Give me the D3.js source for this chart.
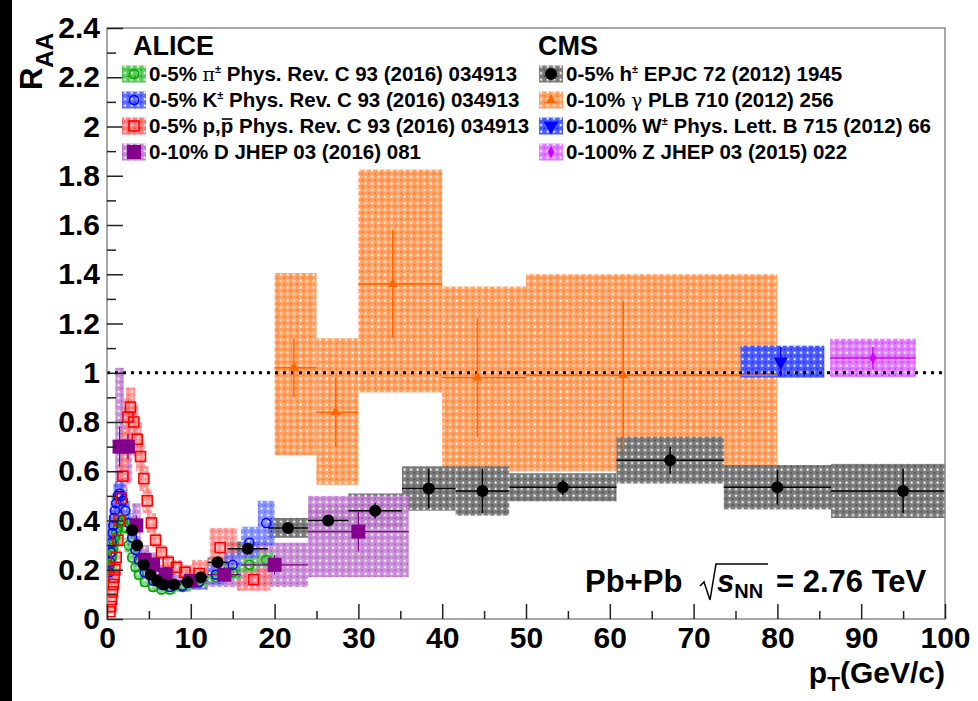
<!DOCTYPE html>
<html>
<head>
<meta charset="utf-8">
<script src="https://cdn.jsdelivr.net/npm/d3@7"></script>
<style>
  body { margin: 0; background: #fff; }
  text { font-family: "Liberation Sans", Arial, Helvetica, sans-serif; font-weight: bold; }
</style>
</head>
<body>
<script>
// ALICE pi+- 0-5%
const piPt = [0.15, 0.25, 0.35, 0.45, 0.55, 0.65, 0.75, 0.85, 0.95, 1.1, 1.3, 1.5, 1.7, 1.9, 2.2, 2.6, 3.0, 3.4, 3.8, 4.5, 5.5, 6.5, 7.5, 9, 11, 13, 15, 17, 19];
const piRaa = [0.2, 0.21, 0.22, 0.23, 0.25, 0.27, 0.29, 0.31, 0.33, 0.35, 0.37, 0.39, 0.4, 0.4, 0.37, 0.3, 0.25, 0.21, 0.18, 0.15, 0.13, 0.12, 0.12, 0.13, 0.15, 0.17, 0.19, 0.22, 0.24];
const piSys = [0.03, 0.03, 0.03, 0.03, 0.03, 0.03, 0.03, 0.03, 0.03, 0.03, 0.03, 0.03, 0.03, 0.03, 0.03, 0.03, 0.02, 0.02, 0.02, 0.02, 0.02, 0.02, 0.02, 0.02, 0.02, 0.02, 0.03, 0.03, 0.03];

// ALICE K+- 0-5%
const kPt = [0.25, 0.35, 0.45, 0.55, 0.65, 0.75, 0.85, 0.95, 1.1, 1.3, 1.5, 1.7, 1.9, 2.2, 2.6, 3.0, 3.4, 3.8, 4.5, 5.5, 6.5, 7.5, 9, 11, 13, 15, 17, 19];
const kRaa = [0.19, 0.23, 0.27, 0.31, 0.35, 0.38, 0.41, 0.44, 0.47, 0.5, 0.51, 0.5, 0.48, 0.44, 0.39, 0.33, 0.28, 0.24, 0.19, 0.155, 0.14, 0.13, 0.135, 0.15, 0.18, 0.22, 0.31, 0.39];
const kSys = [0.03, 0.03, 0.03, 0.04, 0.04, 0.04, 0.04, 0.04, 0.04, 0.05, 0.05, 0.05, 0.05, 0.04, 0.04, 0.04, 0.03, 0.03, 0.03, 0.02, 0.02, 0.02, 0.02, 0.03, 0.04, 0.05, 0.065, 0.09];

// ALICE p, pbar 0-5%
const pPt = [0.35, 0.45, 0.55, 0.65, 0.75, 0.85, 0.95, 1.1, 1.3, 1.5, 1.7, 1.9, 2.2, 2.5, 2.8, 3.2, 3.6, 4.0, 4.4, 4.8, 5.3, 5.8, 6.5, 7.3, 8.3, 9.3, 11, 13.5, 17.5];
const pRaa = [0.03, 0.05, 0.08, 0.11, 0.14, 0.17, 0.2, 0.25, 0.32, 0.4, 0.49, 0.58, 0.7, 0.82, 0.86, 0.8, 0.73, 0.66, 0.57, 0.48, 0.39, 0.32, 0.27, 0.23, 0.21, 0.19, 0.185, 0.29, 0.16];
const pSys = [0.01, 0.01, 0.01, 0.01, 0.02, 0.02, 0.02, 0.03, 0.03, 0.04, 0.05, 0.06, 0.07, 0.08, 0.08, 0.07, 0.07, 0.06, 0.05, 0.05, 0.04, 0.03, 0.03, 0.03, 0.03, 0.03, 0.055, 0.08, 0.045];

// ALICE D 0-10%
const dPt = [1.5, 2.5, 3.5, 4.5, 5.5, 7, 10, 14, 20, 30];
const dLo = [1, 2, 3, 4, 5, 6, 8, 12, 16, 24];
const dHi = [2, 3, 4, 5, 6, 8, 12, 16, 24, 36];
const dRaa = [0.7, 0.7, 0.38, 0.24, 0.22, 0.18, 0.155, 0.18, 0.22, 0.355];
const dStat = [0.08, 0.05, 0.04, 0.03, 0.03, 0.02, 0.02, 0.03, 0.04, 0.08];
const dSysLo = [0.45, 0.55, 0.3, 0.19, 0.17, 0.14, 0.12, 0.13, 0.13, 0.17];
const dSysHi = [1.02, 0.86, 0.47, 0.3, 0.27, 0.22, 0.19, 0.23, 0.31, 0.5];

// CMS h+- 0-5%
const hPt = [3.0, 3.6, 4.4, 5.2, 6.0, 6.8, 8.0, 9.6, 11.2, 13.2, 16.8, 21.6, 26.4, 32.0, 38.4, 44.8, 54.4, 67.2, 80.0, 95.0];
const hLo = [2.8, 3.2, 4.0, 4.8, 5.6, 6.4, 7.2, 8.8, 10.4, 12.0, 14.4, 19.2, 24.0, 28.8, 35.2, 41.6, 48.0, 60.8, 73.6, 86.4];
const hHi = [3.2, 4.0, 4.8, 5.6, 6.4, 7.2, 8.8, 10.4, 12.0, 14.4, 19.2, 24.0, 28.8, 35.2, 41.6, 48.0, 60.8, 73.6, 86.4, 103.6];
const hRaa = [0.36, 0.3, 0.22, 0.18, 0.155, 0.14, 0.14, 0.15, 0.17, 0.23, 0.285, 0.37, 0.4, 0.44, 0.53, 0.52, 0.535, 0.645, 0.535, 0.52];
const hStat = [0.005, 0.005, 0.005, 0.005, 0.005, 0.005, 0.005, 0.005, 0.01, 0.01, 0.015, 0.01, 0.02, 0.03, 0.08, 0.09, 0.03, 0.055, 0.07, 0.09];
const hSys = [0.03, 0.03, 0.02, 0.02, 0.015, 0.015, 0.015, 0.015, 0.02, 0.02, 0.03, 0.04, 0.06, 0.07, 0.09, 0.1, 0.057, 0.095, 0.09, 0.11];

// CMS isolated photons 0-10%
const gPt = [22.3, 27.3, 34.1, 44.2, 61.6];
const gLo = [20, 25, 30, 40, 50];
const gHi = [25, 30, 40, 50, 80];
const gRaa = [1.02, 0.84, 1.36, 0.98, 0.99];
const gStat = [0.12, 0.14, 0.22, 0.24, 0.3];
const gSysLo = [0.665, 0.545, 0.92, 0.6, 0.6];
const gSysHi = [1.405, 1.14, 1.825, 1.35, 1.4];

// CMS W and Z 0-100%
const wPt = [80.4], wLo = [75.6], wHi = [85.6], wRaa = [1.045], wStat = [0.06], wSys = [0.065];
const zPt = [91.4], zLo = [86.3], zHi = [96.5], zRaa = [1.06], zStat = [0.045], zSys = [0.078];

const yTicks = [0, 0.2, 0.4, 0.6, 0.8, 1, 1.2, 1.4, 1.6, 1.8, 2, 2.2, 2.4];
const yMinor = [0.1, 0.3, 0.5, 0.7, 0.9, 1.1, 1.3, 1.5, 1.7, 1.9, 2.1, 2.3];
const xTicks = [0, 10, 20, 30, 40, 50, 60, 70, 80, 90, 100];
const xMinor = [5, 15, 25, 35, 45, 55, 65, 75, 85, 95];

const aliceLegend = [
  [['0-5%  '], ['π', 'sym'], ['±', 'sup'], [' Phys. Rev. C 93 (2016) 034913']],
  [['0-5% K'], ['±', 'sup'], [' Phys. Rev. C 93 (2016) 034913']],
  [['0-5% p,'], ['p', 'bar'], [' Phys. Rev. C 93 (2016) 034913']],
  [['0-10% D JHEP 03 (2016) 081']],
];
const cmsLegend = [
  [['0-5% h'], ['±', 'sup'], [' EPJC 72 (2012) 1945']],
  [['0-10%  '], ['γ', 'sym'], [' PLB 710 (2012) 256']],
  [['0-100% W'], ['±', 'sup'], [' Phys. Lett. B 715 (2012) 66']],
  [['0-100% Z JHEP 03 (2015) 022']],
];

const width = 978;
const height = 701;

const svg = d3.select('body').append('svg').attr('width', width).attr('height', height);
svg.append('rect').attr('width', width).attr('height', height).attr('fill', '#fff');
svg.append('rect').attr('x', 0).attr('y', 0).attr('width', 12).attr('height', height).attr('fill', '#000');

const x = d3.scaleLinear().domain([0, 100]).range([107, 945]);
const y = d3.scaleLinear().domain([0, 2.4]).range([619, 28]);

// dotted fill patterns like the ROOT boxes
const defs = svg.append('defs');
function pattern(id, base, dark) {
  const p = defs.append('pattern').attr('id', id)
    .attr('width', 6.5).attr('height', 6.5).attr('patternUnits', 'userSpaceOnUse');
  p.append('rect').attr('width', 6.5).attr('height', 6.5).attr('fill', base);
  p.append('circle').attr('cx', 1.6).attr('cy', 1.6).attr('r', 1.1).attr('fill', '#fff');
  p.append('circle').attr('cx', 4.85).attr('cy', 4.85).attr('r', 0.9).attr('fill', dark);
}
pattern('pOrange', '#ffa264', '#ff6a10');
pattern('pGray', '#7c7c7c', '#404040');
pattern('pPurple', '#c484d4', '#9a38b0');
pattern('pRed', '#ff7a7a', '#ff2020');
pattern('pBlueK', '#6070ff', '#1c1cff');
pattern('pGreen', '#5ccc5c', '#109010');
pattern('pBlueW', '#4a5cff', '#1a1aff');
pattern('pMagenta', '#e27cff', '#c030ff');

defs.append('clipPath').attr('id', 'plotClip')
  .append('rect').attr('x', x(0)).attr('y', y(2.4)).attr('width', x(100) - x(0)).attr('height', y(0) - y(2.4));

const plot = svg.append('g').attr('clip-path', 'url(#plotClip)');

// build box records
function binBoxes(pt, lo, hi, ylo, yhi) {
  return pt.map((p, i) => ({ x0: x(lo[i]), x1: x(hi[i]), y0: y(yhi[i]), y1: y(ylo[i]) }));
}
function aliceBoxes(pt, val, sys) {
  return pt.map((p, i) => {
    const dl = i > 0 ? (p - pt[i - 1]) / 2 : (pt[1] - pt[0]) / 2;
    const dr = i < pt.length - 1 ? (pt[i + 1] - p) / 2 : dl;
    let x0 = x(p - dl), x1 = x(p + dr);
    if (x1 - x0 < 9) { x0 = x(p) - 4.5; x1 = x(p) + 4.5; }
    return { x0, x1, y0: y(val[i] + sys[i]), y1: y(val[i] - sys[i]) };
  });
}
function drawBoxes(boxes, pat, opacity) {
  plot.append('g').selectAll('rect').data(boxes).enter().append('rect')
    .attr('x', (d) => d.x0)
    .attr('y', (d) => d.y0)
    .attr('width', (d) => d.x1 - d.x0)
    .attr('height', (d) => d.y1 - d.y0)
    .attr('fill', 'url(#' + pat + ')')
    .attr('opacity', opacity || 1);
}

drawBoxes(binBoxes(gPt, gLo, gHi, gSysLo, gSysHi), 'pOrange');
drawBoxes(binBoxes(hPt, hLo, hHi, hRaa.map((v, i) => v - hSys[i]), hRaa.map((v, i) => v + hSys[i])), 'pGray');
drawBoxes(binBoxes(dPt, dLo, dHi, dSysLo, dSysHi), 'pPurple', 0.9);
drawBoxes(aliceBoxes(pPt, pRaa, pSys), 'pRed', 0.75);
drawBoxes(aliceBoxes(kPt, kRaa, kSys), 'pBlueK', 0.75);
drawBoxes(aliceBoxes(piPt, piRaa, piSys), 'pGreen', 0.75);
drawBoxes(binBoxes(wPt, wLo, wHi, wRaa.map((v, i) => v - wSys[i]), wRaa.map((v, i) => v + wSys[i])), 'pBlueW');
drawBoxes(binBoxes(zPt, zLo, zHi, zRaa.map((v, i) => v - zSys[i]), zRaa.map((v, i) => v + zSys[i])), 'pMagenta');

// unity line
plot.append('line')
  .attr('x1', x(0)).attr('x2', x(100)).attr('y1', y(1)).attr('y2', y(1))
  .attr('stroke', '#000').attr('stroke-width', 3).attr('stroke-dasharray', '3,5');

// error bars
function errBars(pt, lo, hi, val, stat, color, w) {
  const g = plot.append('g').attr('stroke', color).attr('stroke-width', w || 1.5);
  pt.forEach((p, i) => {
    if (lo) g.append('line').attr('x1', x(lo[i])).attr('x2', x(hi[i])).attr('y1', y(val[i])).attr('y2', y(val[i]));
    g.append('line').attr('x1', x(p)).attr('x2', x(p)).attr('y1', y(val[i] - stat[i])).attr('y2', y(val[i] + stat[i]));
  });
}

// markers
function marker(g, type, color, cx, cy) {
  if (type === 'ocircle') {
    g.append('circle').attr('cx', cx).attr('cy', cy).attr('r', 4.5)
      .attr('fill', 'none').attr('stroke', color).attr('stroke-width', 1.5);
  } else if (type === 'osquare') {
    g.append('rect').attr('x', cx - 5).attr('y', cy - 5).attr('width', 10).attr('height', 10)
      .attr('fill', 'none').attr('stroke', color).attr('stroke-width', 1.6);
  } else if (type === 'square') {
    g.append('rect').attr('x', cx - 7).attr('y', cy - 7).attr('width', 14).attr('height', 14).attr('fill', color);
  } else if (type === 'circle') {
    g.append('circle').attr('cx', cx).attr('cy', cy).attr('r', 6).attr('fill', color);
  } else if (type === 'tri') {
    g.append('path').attr('d', d3.symbol(d3.symbolTriangle, 45)()).attr('transform', `translate(${cx},${cy})`).attr('fill', color);
  } else if (type === 'tridown') {
    g.append('path').attr('d', d3.symbol(d3.symbolTriangle, 90)()).attr('transform', `translate(${cx},${cy}) rotate(180)`).attr('fill', color);
  } else if (type === 'diamond') {
    g.append('path').attr('d', d3.symbol(d3.symbolDiamond, 40)()).attr('transform', `translate(${cx},${cy})`).attr('fill', color);
  }
}
function drawMarkers(pt, val, type, color) {
  const g = plot.append('g');
  pt.forEach((p, i) => marker(g, type, color, x(p), y(val[i])));
}

drawMarkers(piPt, piRaa, 'ocircle', '#00a000');
drawMarkers(kPt, kRaa, 'ocircle', '#0000ff');
drawMarkers(pPt, pRaa, 'osquare', '#ff0000');

errBars(dPt, dLo, dHi, dRaa, dStat, '#800080', 1.2);
drawMarkers(dPt, dRaa, 'square', '#84008c');

errBars(hPt, hLo, hHi, hRaa, hStat, '#000', 1.5);
drawMarkers(hPt, hRaa, 'circle', '#000');

errBars(gPt, gLo, gHi, gRaa, gStat, '#ff6600', 1.5);
drawMarkers(gPt, gRaa, 'tri', '#ff6600');

errBars(wPt, null, null, wRaa, wStat, '#0000ff', 1.5);
drawMarkers(wPt, wRaa, 'tridown', '#0000ff');

errBars(zPt, zLo, zHi, zRaa, zStat, '#cc00ff', 1.5);
drawMarkers(zPt, zRaa, 'diamond', '#cc00ff');

// frame
svg.append('rect')
  .attr('x', x(0)).attr('y', y(2.4)).attr('width', x(100) - x(0)).attr('height', y(0) - y(2.4))
  .attr('fill', 'none').attr('stroke', '#8a8a8a').attr('stroke-width', 1.5);

// axes
function styleAxis(g) {
  g.select('.domain').remove();
  g.selectAll('.tick line').attr('stroke', '#222').attr('stroke-width', 1.5);
  g.selectAll('.tick text').attr('fill', '#000')
    .style('font-family', '"Liberation Sans", Arial, sans-serif').style('font-weight', 'bold').style('font-size', '30px');
}
const fmt = (d) => String(+d.toFixed(1));

svg.append('g').attr('transform', `translate(${x(0)},0)`)
  .call(d3.axisLeft(y).tickValues(yTicks).tickSize(-16).tickPadding(7).tickFormat(fmt))
  .call(styleAxis);
svg.append('g').attr('transform', `translate(${x(0)},0)`)
  .call(d3.axisLeft(y).tickValues(yMinor).tickSize(-9).tickFormat(''))
  .call(styleAxis);
svg.append('g').attr('transform', `translate(0,${y(0)})`)
  .call(d3.axisBottom(x).tickValues(xTicks).tickSize(-15).tickPadding(8).tickFormat(fmt))
  .call(styleAxis);
svg.append('g').attr('transform', `translate(0,${y(0)})`)
  .call(d3.axisBottom(x).tickValues(xMinor).tickSize(-8).tickFormat(''))
  .call(styleAxis);

// axis titles
const yTitle = svg.append('text').attr('transform', 'translate(42,33) rotate(-90)')
  .attr('text-anchor', 'end').attr('font-size', 31);
yTitle.append('tspan').text('R');
yTitle.append('tspan').attr('font-size', 24).attr('dy', 11).text('AA');

const xTitle = svg.append('text').attr('x', x(100)).attr('y', 683)
  .attr('text-anchor', 'end').attr('font-size', 30);
xTitle.append('tspan').text('p');
xTitle.append('tspan').attr('font-size', 21).attr('dy', 8).text('T');
xTitle.append('tspan').attr('dy', -8).text('(GeV/c)');

// legend
function legendText(tx, ty, segs) {
  const t = svg.append('text').attr('x', tx).attr('y', ty).attr('font-size', 20.5);
  let shift = 0;
  let idx = 0;
  const bars = [];
  segs.forEach(([s, kind]) => {
    const sp = t.append('tspan').text(s);
    if (kind === 'sup') {
      sp.attr('font-size', 11).attr('dy', -8 - shift);
      shift = -8;
    } else {
      if (shift !== 0) { sp.attr('dy', -shift); shift = 0; }
      if (kind === 'sym') sp.style('font-family', '"DejaVu Serif", "Liberation Serif", serif').style('font-weight', 'normal').attr('font-size', 19);
      if (kind === 'bar') bars.push(idx);
    }
    idx += s.length;
  });
  // bar over the antiproton symbol
  bars.forEach((ci) => {
    const e = t.node().getExtentOfChar(ci);
    svg.append('line')
      .attr('x1', e.x + 1).attr('x2', e.x + e.width - 1)
      .attr('y1', ty - 14).attr('y2', ty - 14)
      .attr('stroke', '#000').attr('stroke-width', 1.6);
  });
}
function legendBox(bx, cy, pat, type, color) {
  svg.append('rect').attr('x', bx).attr('y', cy - 8.5).attr('width', 24).attr('height', 17)
    .attr('fill', 'url(#' + pat + ')');
  marker(svg, type, color, bx + 12, cy);
}

const rowY = [74, 100, 126, 152];
svg.append('text').attr('x', 133).attr('y', 55).attr('font-size', 27).text('ALICE');
svg.append('text').attr('x', 538).attr('y', 55).attr('font-size', 27).text('CMS');

const aliceMarks = [['pGreen', 'ocircle', '#00a000'], ['pBlueK', 'ocircle', '#0000ff'], ['pRed', 'osquare', '#ff0000'], ['pPurple', 'square', '#84008c']];
const cmsMarks = [['pGray', 'circle', '#000'], ['pOrange', 'tri', '#ff6600'], ['pBlueW', 'tridown', '#0000ff'], ['pMagenta', 'diamond', '#cc00ff']];
aliceLegend.forEach((segs, i) => {
  legendBox(122, rowY[i], ...aliceMarks[i]);
  legendText(149, rowY[i] + 7, segs);
});
cmsLegend.forEach((segs, i) => {
  legendBox(539, rowY[i], ...cmsMarks[i]);
  legendText(566, rowY[i] + 7, segs);
});

// collision system label
svg.append('text').attr('x', 585).attr('y', 592).attr('font-size', 31).text('Pb+Pb');
svg.append('path').attr('d', 'M700,586 L704,582 L710,600 L716,564 L768,564')
  .attr('fill', 'none').attr('stroke', '#000').attr('stroke-width', 1.5);
const sText = svg.append('text').attr('x', 717).attr('y', 592).attr('font-size', 31);
sText.append('tspan').style('font-style', 'italic').text('s');
sText.append('tspan').attr('font-size', 20).attr('dy', 6).text('NN');
svg.append('text').attr('x', 776).attr('y', 592).attr('font-size', 31).text('= 2.76 TeV');
</script>
</body>
</html>
